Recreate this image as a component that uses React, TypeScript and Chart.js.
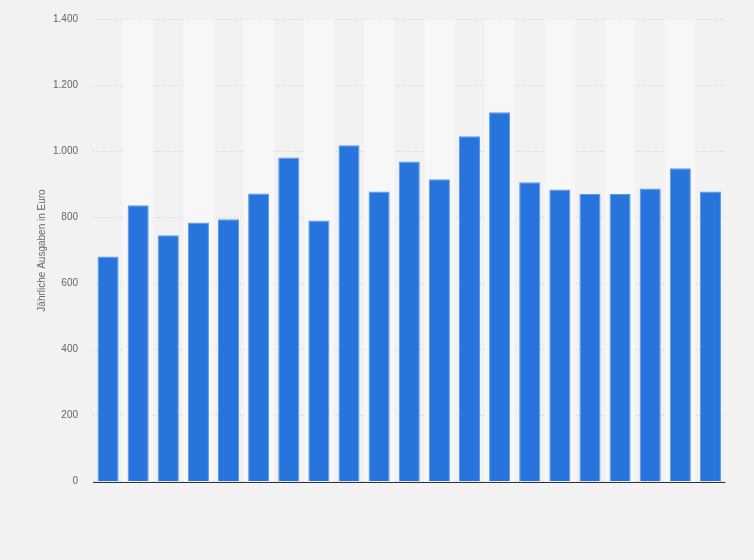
import React, { useEffect, useRef } from "react";
import { Chart, registerables } from "chart.js";

Chart.register(...registerables);

const categories: string[] = [
  "1", "2", "3", "4", "5", "6", "7", "8", "9", "10", "11",
  "12", "13", "14", "15", "16", "17", "18", "19", "20", "21",
];
const values: number[] = [
  682, 837, 746, 785, 795, 873, 982, 791, 1019, 879, 970,
  916, 1046, 1119, 907, 885, 871, 871, 888, 949, 879,
];
const yTicks: number[] = [0, 200, 400, 600, 800, 1000, 1200, 1400];
const yTitle = "Jährliche Ausgaben in Euro";

const BG = "#f2f2f2";
const STRIPE = "#f7f7f7";
const BAR = "#2775dc";
const BAR_EDGE = "#5b98e8";
const FONT = "'Liberation Sans', Arial, sans-serif";

const fmt = (v: number) => v.toLocaleString("de-DE");

const stripePlugin = {
  id: "stripes",
  beforeDatasetsDraw(chart: any) {
    const { ctx, chartArea, scales } = chart;
    const x = scales.x;
    ctx.save();
    ctx.fillStyle = STRIPE;
    const half = (x.getPixelForValue(1) - x.getPixelForValue(0)) / 2;
    for (let i = 0; i < categories.length; i++) {
      if (i % 2 === 1) {
        const c = x.getPixelForValue(i);
        ctx.fillRect(c - half, chartArea.top, half * 2, chartArea.bottom - chartArea.top);
      }
    }
    ctx.restore();
  },
  beforeDraw(chart: any) {
    const { ctx, width, height } = chart;
    ctx.save();
    ctx.fillStyle = BG;
    ctx.fillRect(0, 0, width, height);
    ctx.restore();
  },
};

const zeroLinePlugin = {
  id: "zeroLine",
  afterDatasetsDraw(chart: any) {
    const { ctx, chartArea, scales } = chart;
    const y = Math.round(scales.y.getPixelForValue(0)) + 0.5;
    ctx.save();
    ctx.strokeStyle = "#333333";
    ctx.lineWidth = 1.2;
    ctx.beginPath();
    ctx.moveTo(chartArea.left, y);
    ctx.lineTo(chartArea.right, y);
    ctx.stroke();
    ctx.restore();
  },
};

export default function App() {
  const ref = useRef<HTMLCanvasElement | null>(null);

  useEffect(() => {
    if (!ref.current) return;
    const chart = new Chart(ref.current, {
      type: "bar",
      data: {
        labels: categories,
        datasets: [
          {
            data: values,
            backgroundColor: BAR,
            borderColor: BAR_EDGE,
            borderWidth: 1,
            barPercentage: 0.7,
            categoryPercentage: 1,
          },
        ],
      },
      options: {
        animation: false,
        responsive: false,
        maintainAspectRatio: false,
        layout: { padding: { top: 19.5, bottom: 78.5, left: 0, right: 28.5 } },
        plugins: {
          legend: { display: false },
          tooltip: { enabled: false },
        },
        scales: {
          x: { display: false },
          y: {
            min: 0,
            max: 1400,
            afterBuildTicks: (s: any) => {
              s.ticks = yTicks.map((v) => ({ value: v }));
            },
            afterFit: (s: any) => {
              s.width = 93;
              s.paddingTop = 0;
              s.paddingBottom = 0;
            },
            ticks: {
              padding: 15,
              color: "#666",
              font: { family: FONT, size: 10 },
              callback: (v: any) => fmt(Number(v)),
            },
            grid: {
              color: "#cccccc",
              lineWidth: 1,
              drawTicks: false,
            },
            border: { display: false, dash: [1, 2] },
            title: {
              display: true,
              text: yTitle,
              color: "#666",
              font: { family: FONT, size: 10 },
              padding: { top: 36, bottom: 0 },
            },
          },
        },
      },
      plugins: [stripePlugin, zeroLinePlugin],
    });
    return () => chart.destroy();
  }, []);

  return (
    <div style={{ position: "fixed", left: 0, top: 0, width: 754, height: 560, background: BG }}>
      <canvas ref={ref} width={754} height={560} style={{ display: "block" }} />
    </div>
  );
}
